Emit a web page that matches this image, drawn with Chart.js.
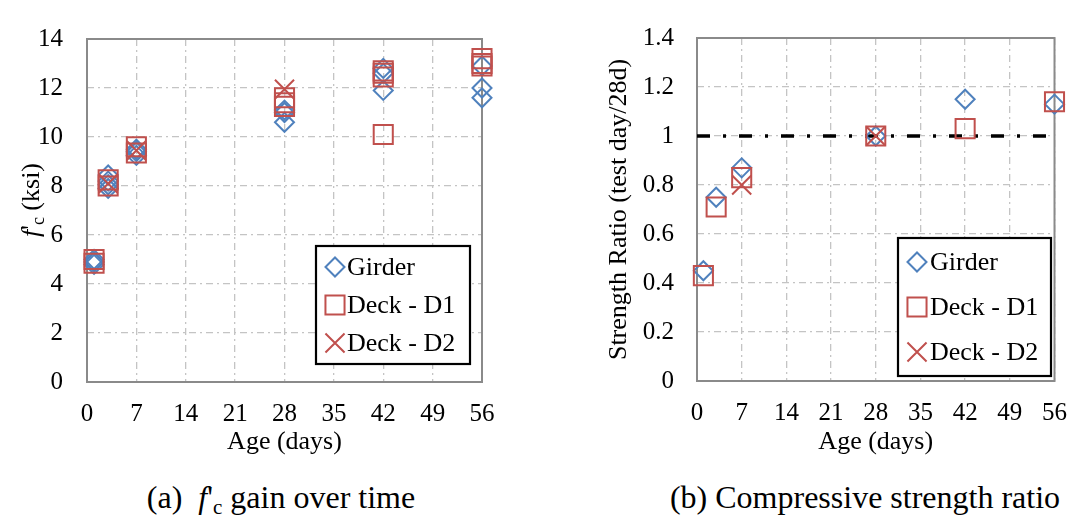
<!DOCTYPE html>
<html><head><meta charset="utf-8">
<script src="https://cdn.jsdelivr.net/npm/chart.js@4.4.1/dist/chart.umd.min.js"></script>
<style>
html,body{margin:0;padding:0;background:#fff;width:1084px;height:519px;overflow:hidden;position:relative;}
canvas{position:absolute;top:0;}
#cA{left:0}
#cB{left:560px}
.cap{position:absolute;top:479px;width:440px;text-align:center;font-family:"Liberation Serif",serif;font-size:32px;line-height:37px;color:#000;white-space:nowrap}
.cap sub{font-size:21px;vertical-align:baseline;position:relative;top:6px}
.pre{position:absolute;left:-1000px;top:0;font-family:"Liberation Serif";}
</style></head><body>
<span class="pre">Ag <i>f</i></span>
<canvas id="cA" width="540" height="458"></canvas>
<canvas id="cB" width="524" height="458"></canvas>
<div class="cap" style="left:61px">(a)&nbsp; <i>f</i>'<sub>c</sub> gain over time</div>
<div class="cap" style="left:645px">(b) Compressive strength ratio</div>
<script>
// ---------- data ----------
const ageTicks = [0, 7, 14, 21, 28, 35, 42, 49, 56];
const fcTicks = [0, 2, 4, 6, 8, 10, 12, 14];
const ratioTicks = [0, 0.2, 0.4, 0.6, 0.8, 1, 1.2, 1.4];
const ratioTickLabels = ['0', '0.2', '0.4', '0.6', '0.8', '1', '1.2', '1.4'];
const seriesNames = ['Girder', 'Deck - D1', 'Deck - D2'];

// (a) f'c (ksi) vs age
const girderFcDays = [1, 1, 1, 3, 3, 3, 3, 7, 7, 7, 28, 28, 28, 42, 42, 42, 56, 56, 56];
const girderFc     = [4.8, 4.9, 5.0, 8.45, 8.2, 8.05, 7.9, 9.5, 9.4, 9.25, 11.1, 11.0, 10.6, 12.8, 12.6, 11.9, 12.9, 12.0, 11.6];
const d1FcDays = [1, 1, 3, 3, 7, 7, 28, 28, 28, 42, 42, 42, 42, 56, 56, 56];
const d1Fc     = [5.0, 4.85, 8.25, 8.0, 9.6, 9.35, 11.6, 11.4, 11.25, 12.7, 12.6, 12.45, 10.1, 13.2, 13.0, 12.9];
const d2FcDays = [3, 7, 28];
const d2Fc     = [8.1, 9.45, 11.95];

// (b) strength ratio (test day / 28d)
const ratioDays   = [1, 3, 7, 28, 42, 56];
const girderRatio = [0.45, 0.75, 0.87, 1.0, 1.15, 1.13];
const d1Ratio     = [0.43, 0.71, 0.83, 1.0, 1.03, 1.14];
const d2RatioDays = [7, 28];
const d2Ratio     = [0.80, 1.0];
const refDays  = [0, 56];
const refRatio = [1, 1];

// ---------- styling ----------
const FONT = '"Liberation Serif", serif';
const BLUE = '#4f81bd', RED = '#c0504d';
const pts = (xs, ys) => xs.map((x, i) => ({x: x, y: ys[i]}));

const markerStyles = [
  {pointStyle: 'rectRot', radius: 9.5, color: BLUE},
  {pointStyle: 'rect', radius: 13.5, color: RED},
  {pointStyle: 'crossRot', radius: 13.5, color: RED}
];

function scatterSet(i, data) {
  const m = markerStyles[i];
  return {
    type: 'scatter', label: seriesNames[i], data: data,
    pointStyle: m.pointStyle, pointRadius: m.radius,
    borderColor: m.color, backgroundColor: 'rgba(0,0,0,0)',
    pointBorderWidth: 2, borderWidth: 2, clip: false, order: 3 - i
  };
}

function xScale(h) {
  return {
    type: 'linear', min: 0, max: 56,
    afterBuildTicks: s => { s.ticks = ageTicks.map(v => ({value: v})); },
    afterFit: s => { s.height = h; },
    ticks: {font: {family: FONT, size: 25}, color: '#000', padding: 17, maxRotation: 0, autoSkip: false},
    grid: {color: '#c4c4c4', lineWidth: 1.3, drawTicks: false},
    border: {display: false, dash: [7, 4, 2, 4]},
    title: {display: true, text: 'Age (days)', font: {family: FONT, size: 26}, color: '#000', padding: 0}
  };
}

function yScale(w, min, max, tickVals, tickLabels, pad, title) {
  return {
    type: 'linear', min: min, max: max,
    afterBuildTicks: s => { s.ticks = tickVals.map(v => ({value: v})); },
    afterFit: s => { s.width = w; },
    ticks: {font: {family: FONT, size: 25}, color: '#000', padding: pad, autoSkip: false,
            callback: (v, i) => tickLabels[i]},
    grid: {color: '#c4c4c4', lineWidth: 1.3, drawTicks: false},
    border: {display: false, dash: [7, 4, 2, 4]},
    title: title
  };
}

const framePlugin = {
  id: 'frame',
  beforeDatasetsDraw(chart) {
    const a = chart.chartArea, ctx = chart.ctx;
    ctx.save();
    ctx.strokeStyle = '#8a8a8a'; ctx.lineWidth = 2;
    ctx.strokeRect(a.left, a.top, a.right - a.left, a.bottom - a.top);
    ctx.restore();
  }
};

function drawMarker(ctx, m, x, y) {
  ctx.save();
  ctx.strokeStyle = m.color; ctx.fillStyle = 'rgba(0,0,0,0)'; ctx.lineWidth = 2;
  const H = Chart.helpers;
  if (H && H.drawPoint) {
    H.drawPoint(ctx, {pointStyle: m.pointStyle, radius: m.radius, rotation: 0, borderWidth: 2}, x, y);
  } else {
    ctx.beginPath();
    const r = m.radius;
    if (m.pointStyle === 'rectRot') { ctx.moveTo(x, y - r); ctx.lineTo(x + r, y); ctx.lineTo(x, y + r); ctx.lineTo(x - r, y); ctx.closePath(); }
    else if (m.pointStyle === 'rect') { const s = r * Math.SQRT1_2; ctx.rect(x - s, y - s, 2 * s, 2 * s); }
    else { const s = r * Math.SQRT1_2; ctx.moveTo(x - s, y - s); ctx.lineTo(x + s, y + s); ctx.moveTo(x + s, y - s); ctx.lineTo(x - s, y + s); }
    ctx.stroke();
  }
  ctx.restore();
}

const boxLegend = {
  id: 'boxLegend',
  afterDraw(chart, args, o) {
    const ctx = chart.ctx;
    ctx.save();
    ctx.fillStyle = '#fff';
    ctx.fillRect(o.x, o.y, o.w, o.h);
    ctx.strokeStyle = '#000'; ctx.lineWidth = 2.2;
    ctx.strokeRect(o.x, o.y, o.w, o.h);
    seriesNames.forEach((name, i) => {
      const y = o.rows[i];
      drawMarker(ctx, markerStyles[i], o.mx, y);
      ctx.font = '26px ' + FONT;
      ctx.fillStyle = '#000'; ctx.textBaseline = 'middle'; ctx.textAlign = 'left';
      ctx.fillText(name, o.tx, y + 1);
    });
    ctx.restore();
  }
};

const fcTitle = {
  id: 'fcTitle',
  afterDraw(chart, args, o) {
    const ctx = chart.ctx;
    const parts = [
      ['f', 'italic 26px ' + FONT, 0],
      ["'", '26px ' + FONT, 0],
      ['c', '18px ' + FONT, 5],
      [' (ksi)', '26px ' + FONT, 0]
    ];
    ctx.save();
    ctx.translate(o.x, o.y);
    ctx.rotate(-Math.PI / 2);
    ctx.fillStyle = '#000'; ctx.textBaseline = 'alphabetic'; ctx.textAlign = 'left';
    let w = 0;
    parts.forEach(p => { ctx.font = p[1]; w += ctx.measureText(p[0]).width; });
    let x = -w / 2;
    parts.forEach(p => { ctx.font = p[1]; ctx.fillText(p[0], x, 9 + p[2]); x += ctx.measureText(p[0]).width; });
    ctx.restore();
  }
};

const common = {
  responsive: false, animation: false, events: [],
  plugins: {legend: {display: false}, tooltip: {enabled: false}}
};

function build() {
  Chart.defaults.font.family = FONT;
  new Chart(document.getElementById('cA'), {
    type: 'scatter',
    data: {datasets: [
      scatterSet(0, pts(girderFcDays, girderFc)),
      scatterSet(1, pts(d1FcDays, d1Fc)),
      scatterSet(2, pts(d2FcDays, d2Fc))
    ]},
    options: Object.assign({}, common, {
      layout: {padding: {left: 0, top: 18, right: 58, bottom: 0}},
      scales: {
        x: xScale(76),
        y: yScale(87, 0, 14, fcTicks, fcTicks.map(String), 24, {display: false})
      },
      plugins: Object.assign({}, common.plugins, {
        boxLegend: {x: 316, y: 246, w: 154, h: 118, mx: 335, tx: 347, rows: [267, 305, 343]},
        fcTitle: {x: 30, y: 200}
      })
    }),
    plugins: [framePlugin, boxLegend, fcTitle]
  });

  new Chart(document.getElementById('cB'), {
    type: 'scatter',
    data: {datasets: [
      scatterSet(0, pts(ratioDays, girderRatio)),
      scatterSet(1, pts(ratioDays, d1Ratio)),
      scatterSet(2, pts(d2RatioDays, d2Ratio)),
      {type: 'line', label: '28-day reference', data: pts(refDays, refRatio),
       borderColor: '#000', borderWidth: 3.5, borderDash: [13, 13, 3, 13], pointRadius: 0,
       fill: false, clip: false, order: 4}
    ]},
    options: Object.assign({}, common, {
      layout: {padding: {left: 0, top: 17, right: 18, bottom: 0}},
      scales: {
        x: xScale(77),
        y: yScale(137, 0, 1.4, ratioTicks, ratioTickLabels, 23,
          {display: true, text: 'Strength Ratio (test day/28d)', font: {family: FONT, size: 26}, color: '#000', padding: {top: 44, bottom: 0}})
      },
      plugins: Object.assign({}, common.plugins, {
        boxLegend: {x: 338, y: 238, w: 153, h: 138, mx: 357, tx: 370, rows: [262, 307, 352]}
      })
    }),
    plugins: [framePlugin, boxLegend]
  });
}

const loads = document.fonts ? Promise.all([
  document.fonts.load('25px "Liberation Serif"'),
  document.fonts.load('italic 26px "Liberation Serif"')
]).catch(() => {}) : Promise.resolve();
loads.then(build, build);
</script>
</body></html>
